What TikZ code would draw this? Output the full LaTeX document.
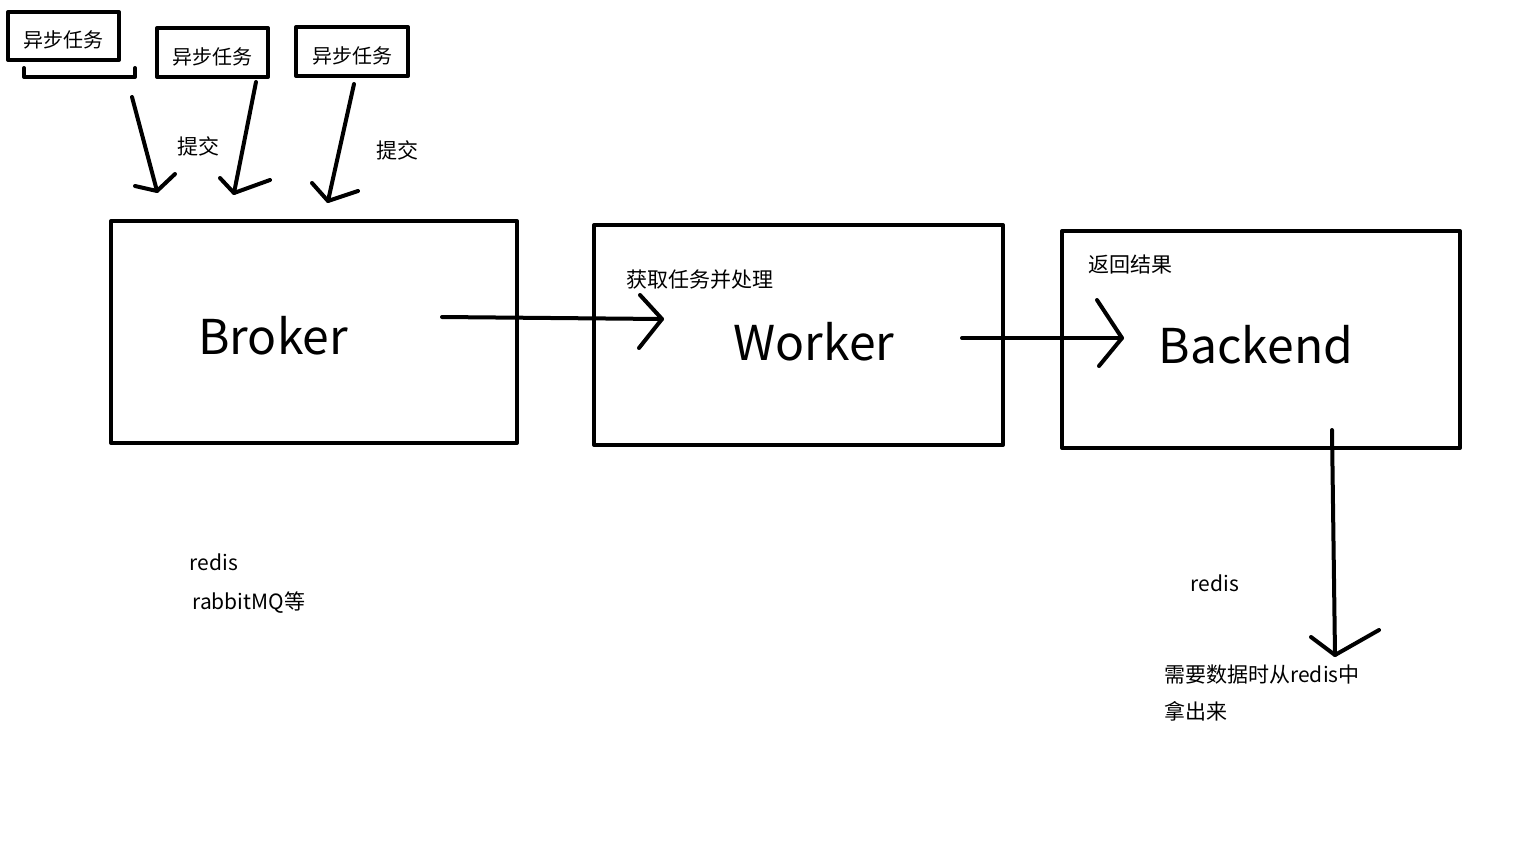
\documentclass[tikz,border=0pt]{standalone}
\usepackage{fontspec}
\setmainfont{Noto Sans CJK SC}
\begin{document}
\begin{tikzpicture}[x=0.5pt, y=-0.5pt, line cap=round, line join=round,
        pen/.style={line width=2pt},
        taskbox/.style={draw, line width=2pt, inner sep=0pt,
            label={[font=\fontsize{10}{12}\selectfont, yshift=-2pt]center:异步任务}},
        bigbox/.style={draw, line width=2pt, inner sep=0pt},
        bigtext/.style={font=\fontsize{24}{28}\selectfont},
        note/.style={font=\fontsize{10.5}{12}\selectfont, inner sep=0pt}]
        \useasboundingbox (0,0) rectangle (1536,864);

        % ==============================================================
        % 1. TASKS (top left)
        % ==============================================================
        \node[taskbox, minimum width=55.5pt, minimum height=24pt]   (task1) at (63.5,36)    {};
        \node[taskbox, minimum width=55.5pt, minimum height=24.5pt] (task2) at (212.5,52.5) {};
        \node[taskbox, minimum width=56pt,   minimum height=24.5pt] (task3) at (352,51.5)   {};

        % open bracket under the first task
        \draw[pen] (24,68) -- (24,77) -- (135,77) -- (135,68);

        % submit arrows (shaft, then hand drawn head)
        \coordinate (s1) at (132,97);  \coordinate (t1) at (157,191);
        \coordinate (s2) at (256,82);  \coordinate (t2) at (234,193);
        \coordinate (s3) at (354,84);  \coordinate (t3) at (328,201);
        \draw[pen] (s1) -- (t1);
        \draw[pen] (t1) ++(-22,-5) -- (t1) -- ++(18,-17);
        \draw[pen] (s2) -- (t2);
        \draw[pen] (t2) ++(-14,-15) -- (t2) -- ++(36,-13);
        \draw[pen] (s3) -- (t3);
        \draw[pen] (t3) ++(-16,-18) -- (t3) -- ++(30,-10);

        \node[note] (submitA) at (198,146) {提交};
        \node[note] (submitB) at (397,150) {提交};

        % ==============================================================
        % 2. BROKER / WORKER / BACKEND
        % ==============================================================
        \node[bigbox, minimum width=203pt,   minimum height=111pt]   (broker)  at (314,332)    {};
        \node[bigbox, minimum width=204.5pt, minimum height=110pt]   (worker)  at (798.5,335)  {};
        \node[bigbox, minimum width=199pt,   minimum height=108.5pt] (backend) at (1261,339.5) {};

        \node[bigtext] (brokerText)  at (273,336)  {Broker};
        \node[bigtext] (workerText)  at (814,342)  {Worker};
        \node[bigtext] (backendText) at (1256,345) {Backend};

        \node[note] (fetchText)  at (700,280)  {获取任务并处理};
        \node[note] (returnText) at (1130,264) {返回结果};

        % Broker -> Worker
        \coordinate (bw1) at (442,317);  \coordinate (bw2) at (662,319);
        \draw[pen] (bw1) -- (bw2);
        \draw[pen] (bw2) ++(-22,-24) -- (bw2) -- ++(-23,29);

        % Worker -> Backend
        \coordinate (wb1) at (962,338);  \coordinate (wb2) at (1122,338);
        \draw[pen] (wb1) -- (wb2);
        \draw[pen] (wb2) ++(-25,-38) -- (wb2) -- ++(-23,28);

        % Backend -> down
        \coordinate (bd1) at (1332,430);  \coordinate (bd2) at (1335,655);
        \draw[pen] (bd1) -- (bd2);
        \draw[pen] (bd2) ++(-24,-18) -- (bd2) -- ++(44,-25);

        % ==============================================================
        % 3. NOTES
        % ==============================================================
        \node[note] (redisA)  at (214,562) {redis};
        \node[note, anchor=west] (rabbit) at (192,603) {rabbitMQ等};
        \node[note] (redisB)  at (1215,583) {redis};
        \node[note, anchor=west] (fetchA) at (1164,675) {需要数据时从redis中};
        \node[note, anchor=west] (fetchB) at (1164,711) {拿出来};
\end{tikzpicture}
\end{document}
